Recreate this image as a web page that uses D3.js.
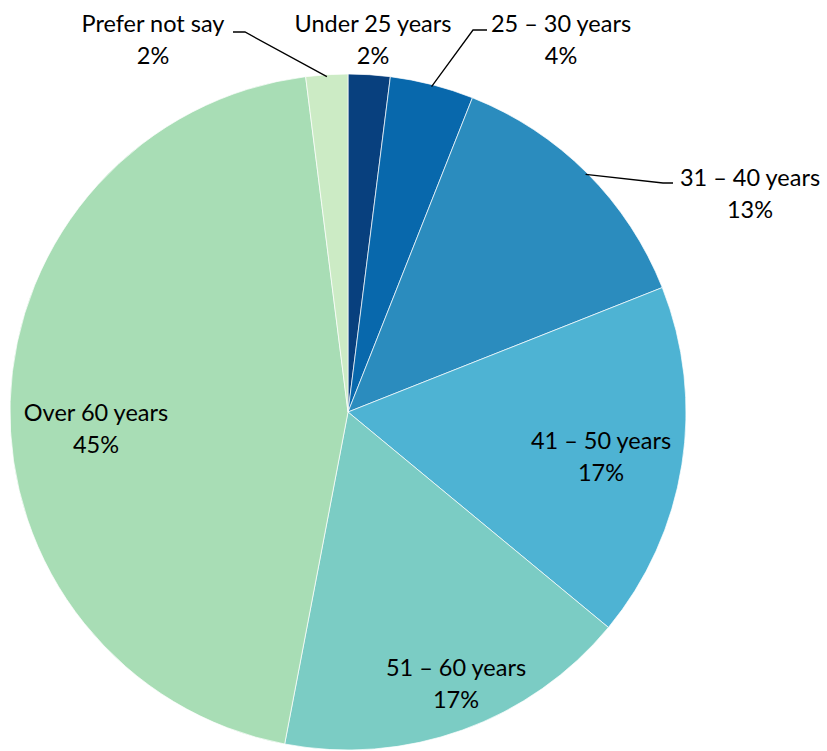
<!DOCTYPE html>
<html>
<head>
<meta charset="utf-8">
<script src="https://cdn.jsdelivr.net/npm/d3@7"></script>
<style>
  html, body { margin: 0; padding: 0; background: #ffffff; }
  svg { display: block; }
  text { font-family: "Lato", "Open Sans", sans-serif; font-size: 23.5px; fill: #000; }
</style>
</head>
<body>
<svg id="chart" width="827" height="751"></svg>
<script>
// Age groups of respondents (percent)
const categories = ["Under 25 years", "25 \u2013 30 years", "31 \u2013 40 years", "41 \u2013 50 years", "51 \u2013 60 years", "Over 60 years", "Prefer not say"];
const shares = [2, 4, 13, 17, 17, 45, 2];
const colors = ["#08407e", "#0868ac", "#2b8cbe", "#4eb3d3", "#7bccc4", "#a8ddb5", "#ccebc5"];

const width = 827, height = 751;
const cx = 348, cy = 412, radius = 338;

const svg = d3.select("#chart");
const g = svg.append("g").attr("transform", `translate(${cx},${cy})`);

const pie = d3.pie().sort(null).value(d => d.value);
const arc = d3.arc().innerRadius(0).outerRadius(radius);
const rows = categories.map((c, i) => ({ label: c, value: shares[i], color: colors[i] }));
const arcs = pie(rows);

g.selectAll("path.slice")
  .data(arcs)
  .enter().append("path")
  .attr("class", "slice")
  .attr("d", arc)
  .attr("fill", d => d.data.color)
  .attr("stroke", "#ffffff")
  .attr("stroke-width", 0.7);

// Label placement (page coordinates of the label centre, first line baseline)
// and optional leader lines: [elbow near label, end of horizontal tick]
const labelLayout = [
  { x: 373, y: 32, leader: null },
  { x: 561, y: 32, leader: { elbow: [473, 30], tick: [487, 30] } },
  { x: 750, y: 186, leader: { elbow: [663, 183], tick: [673, 183] } },
  { x: 601, y: 449, leader: null },
  { x: 456, y: 676, leader: null },
  { x: 96, y: 421, leader: null },
  { x: 153, y: 32, leader: { elbow: [245, 32], tick: [233, 32] } }
];

const pointOn = (d, r) => {
  const a = (d.startAngle + d.endAngle) / 2;
  return [cx + Math.sin(a) * r, cy - Math.cos(a) * r];
};

arcs.forEach((d, i) => {
  const L = labelLayout[i];
  if (L.leader) {
    const p = pointOn(d, radius - 2);
    svg.append("polyline")
      .attr("points", [p, L.leader.elbow, L.leader.tick].map(q => q.join(",")).join(" "))
      .attr("fill", "none")
      .attr("stroke", "#000")
      .attr("stroke-width", 1.3);
  }
  const t = svg.append("text")
    .attr("text-anchor", "middle")
    .attr("x", L.x)
    .attr("y", L.y);
  t.append("tspan").attr("x", L.x).attr("dy", 0).text(d.data.label);
  t.append("tspan").attr("x", L.x).attr("dy", 32).text(d.data.value + "%");
});
</script>
</body>
</html>
